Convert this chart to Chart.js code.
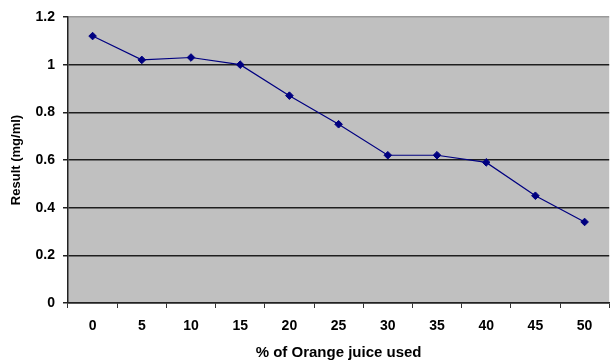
<!DOCTYPE html>
<html>
<head>
<meta charset="utf-8">
<script src="https://cdn.jsdelivr.net/npm/chart.js@4/dist/chart.umd.min.js"></script>
<style>
  html, body { margin: 0; padding: 0; background: #fff; overflow: hidden; }
  #wrap { width: 611px; height: 362px; overflow: hidden; }
  #box { width: 614px; height: 362px; }
</style>
</head>
<body>
<div id="wrap"><div id="box"><canvas id="c"></canvas></div></div>
<script>
// Orange juice share (%) and the measured result (mg/ml)
const juicePercent = ['0', '5', '10', '15', '20', '25', '30', '35', '40', '45', '50'];
const resultValues = [1.12, 1.02, 1.03, 1.00, 0.87, 0.75, 0.62, 0.62, 0.59, 0.45, 0.34];
const yTicks = [0, 0.2, 0.4, 0.6, 0.8, 1, 1.2];

const FONT = "'Liberation Sans', Arial, sans-serif";

// Grey plot background behind the series
const plotBackground = {
  id: 'plotBackground',
  beforeDraw(chart) {
    const { ctx, chartArea: a } = chart;
    ctx.save();
    ctx.fillStyle = '#c0c0c0';
    ctx.fillRect(a.left, a.top, a.right - a.left, a.bottom - a.top);
    ctx.restore();
  }
};

new Chart(document.getElementById('c'), {
  type: 'line',
  data: {
    labels: juicePercent,
    datasets: [{
      data: resultValues,
      borderColor: '#000080',
      backgroundColor: '#000080',
      borderWidth: 1.2,
      pointStyle: 'rectRot',
      pointRadius: 3.8,
      pointHoverRadius: 3.8,
      pointBorderWidth: 1,
      fill: false,
      tension: 0
    }]
  },
  options: {
    responsive: true,
    maintainAspectRatio: false,
    animation: false,
    events: [],
    layout: { padding: { top: 17, right: 0, bottom: 0, left: 0 } },
    plugins: { legend: { display: false }, tooltip: { enabled: false } },
    scales: {
      x: {
        type: 'category',
        offset: true,
        grid: {
          offset: true,
          drawOnChartArea: false,
          drawTicks: true,
          tickLength: 5,
          color: '#333',
          tickColor: '#333'
        },
        border: { color: '#222', width: 1.5 },
        ticks: {
          color: '#000',
          padding: 10,
          font: { family: FONT, size: 14, weight: 'bold' },
          maxRotation: 0
        },
        title: {
          display: true,
          text: '% of Orange juice used',
          color: '#000',
          font: { family: FONT, size: 15, weight: 'bold' },
          padding: { top: 4, bottom: 0 }
        },
        afterFit(scale) { scale.height = 59; }
      },
      y: {
        min: 0,
        max: 1.2,
        afterBuildTicks(scale) { scale.ticks = yTicks.map(v => ({ value: v })); },
        grid: {
          color: ctx => (ctx.tick && ctx.tick.value === 1.2) ? '#9a9a9a' : '#1e1e1e',
          lineWidth: 1.5,
          tickColor: '#222',
          tickLength: 5
        },
        border: { color: '#222', width: 1.5 },
        ticks: {
          color: '#000',
          padding: 8,
          font: { family: FONT, size: 14, weight: 'bold' },
          callback: v => String(v)
        },
        title: {
          display: true,
          text: 'Result (mg/ml)',
          color: '#000',
          font: { family: FONT, size: 13, weight: 'bold' },
          padding: { top: 9, bottom: 0 }
        },
        afterFit(scale) { scale.width = 68; }
      }
    }
  },
  plugins: [plotBackground]
});
</script>
</body>
</html>
